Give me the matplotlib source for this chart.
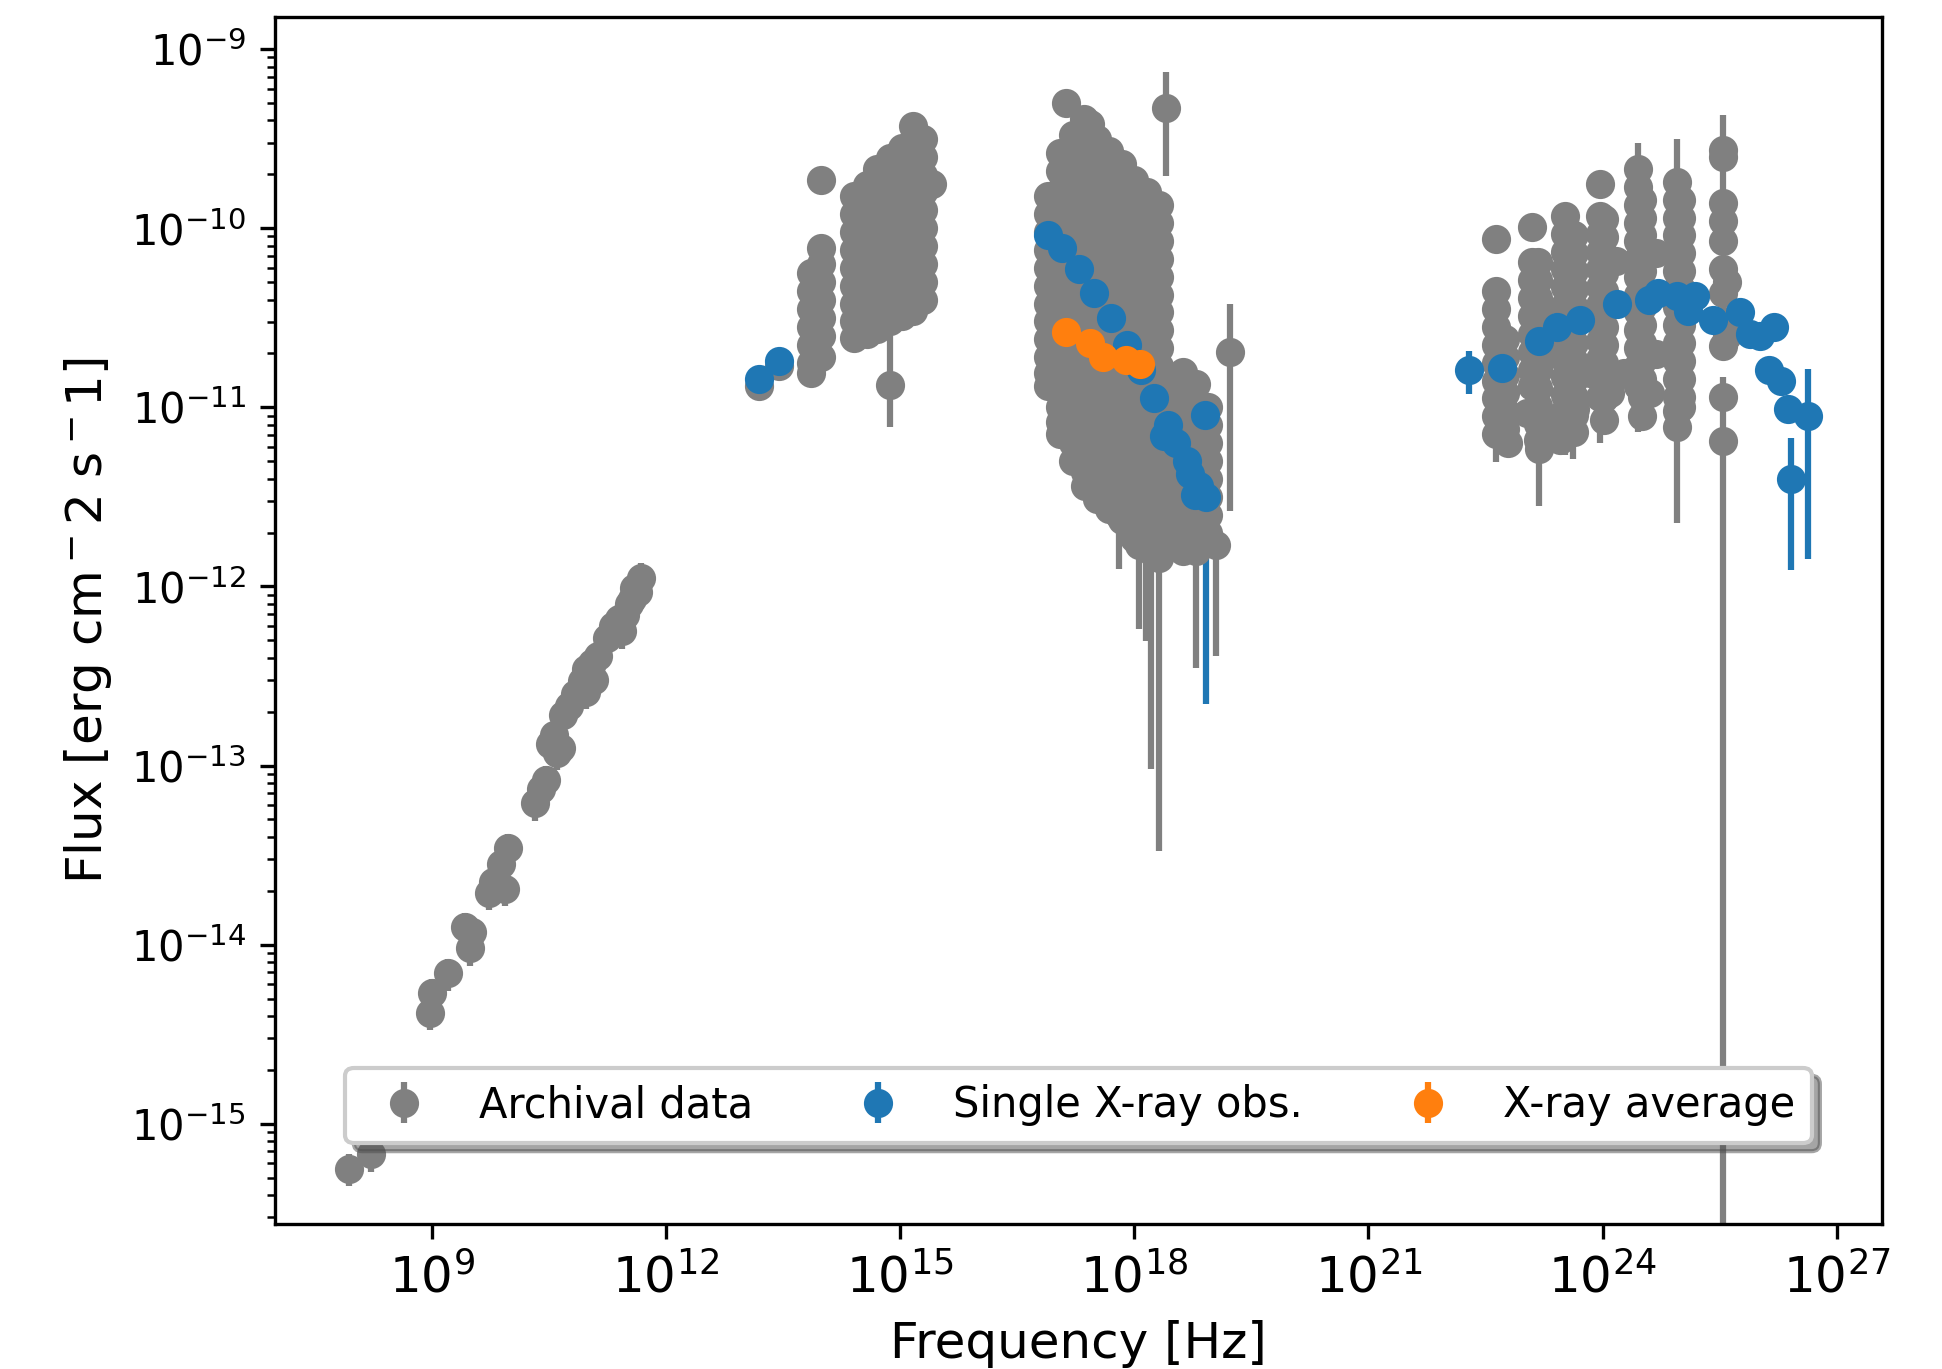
import numpy as np
import matplotlib.pyplot as plt

# All values are log10(frequency / Hz) and log10(flux / erg cm^-2 s^-1)

# Archival radio points
radio_lognu = [7.94, 8.22, 8.97, 9.00, 9.21, 9.43, 9.51, 9.49, 9.73, 9.78, 9.94, 9.89, 9.98,
               10.32, 10.40, 10.46, 10.52, 10.60, 10.56, 10.65, 10.68, 10.76, 10.84, 10.92,
               10.98, 11.05, 10.98, 11.08, 11.13, 11.24, 11.32, 11.40, 11.48, 11.52, 11.44,
               11.56, 11.64, 11.68, 11.59]
radio_logf = [-15.25, -15.17, -14.38, -14.27, -14.16, -13.90, -13.93, -14.02, -13.71, -13.65,
              -13.69, -13.55, -13.46, -13.21, -13.13, -13.08, -12.88, -12.93, -12.83, -12.90,
              -12.72, -12.67, -12.60, -12.53, -12.46, -12.43, -12.59, -12.52, -12.39, -12.29,
              -12.22, -12.18, -12.16, -12.10, -12.25, -12.07, -12.03, -11.95, -12.01]

# Archival IR / optical / UV points, grouped by frequency
opt_col_lognu = [13.19, 13.45, 13.86, 13.98, 14.41, 14.57, 14.70, 14.87, 15.02, 15.16, 15.29, 15.41]
opt_col_logf = [
    [-10.88],
    [-10.77],
    [-10.25, -10.35, -10.45, -10.55, -10.65, -10.75, -10.81],
    [-9.73, -10.11, -10.20, -10.30, -10.40, -10.50, -10.60, -10.72],
    [-9.82, -9.92, -10.02, -10.12, -10.22, -10.32, -10.42, -10.52, -10.61],
    [-9.76, -9.86, -9.96, -10.06, -10.16, -10.26, -10.36, -10.46, -10.59],
    [-9.67, -9.77, -9.87, -9.97, -10.07, -10.17, -10.27, -10.37, -10.47, -10.56],
    [-9.61, -9.71, -9.81, -9.91, -10.01, -10.11, -10.21, -10.31, -10.41, -10.52],
    [-9.55, -9.65, -9.75, -9.85, -9.95, -10.05, -10.15, -10.25, -10.35, -10.49],
    [-9.43, -9.52, -9.62, -9.72, -9.82, -9.92, -10.02, -10.12, -10.22, -10.32, -10.46],
    [-9.50, -9.60, -9.70, -9.80, -9.90, -10.00, -10.10, -10.20, -10.30, -10.40],
    [-9.75],
]

# Archival X-ray points, grouped by frequency
xray_col_lognu = [16.89, 17.05, 17.13, 17.21, 17.35, 17.37, 17.43, 17.52, 17.68, 17.84, 18.00,
                  18.16, 18.32, 18.63, 18.79, 18.95]
xray_col_logf = [
    [-9.82, -9.92, -10.02, -10.12, -10.22, -10.32, -10.42, -10.52, -10.62, -10.72, -10.81, -10.88],
    [-9.58, -9.68, -9.79, -9.90, -10.00, -10.10, -10.21, -10.30, -10.41, -10.50, -10.60, -10.71,
     -10.80, -10.90, -11.00, -11.08, -11.15],
    [-9.30],
    [-9.48, -9.58, -9.69, -9.80, -9.90, -10.00, -10.10, -10.20, -10.30, -10.40, -10.50, -10.60,
     -10.70, -10.80, -10.90, -11.00, -11.10, -11.20, -11.30],
    [-9.39],
    [-9.45, -9.55, -9.66, -9.76, -9.86, -9.96, -10.06, -10.16, -10.26, -10.36, -10.46, -10.56,
     -10.66, -10.76, -10.86, -10.96, -11.06, -11.16, -11.26, -11.36, -11.44],
    [-9.42],
    [-9.50, -9.60, -9.70, -9.80, -9.90, -10.00, -10.10, -10.20, -10.30, -10.40, -10.50, -10.60,
     -10.70, -10.80, -10.90, -11.00, -11.10, -11.20, -11.30, -11.40, -11.51],
    [-9.57, -9.67, -9.77, -9.87, -9.97, -10.07, -10.17, -10.27, -10.37, -10.47, -10.57, -10.67,
     -10.77, -10.87, -10.97, -11.07, -11.17, -11.27, -11.37, -11.47, -11.57],
    [-9.64, -9.74, -9.84, -9.94, -10.04, -10.14, -10.24, -10.34, -10.44, -10.54, -10.64, -10.74,
     -10.84, -10.94, -11.04, -11.14, -11.24, -11.34, -11.44, -11.54, -11.63],
    [-9.73, -9.83, -9.93, -10.03, -10.13, -10.23, -10.33, -10.43, -10.53, -10.63, -10.73, -10.83,
     -10.93, -11.03, -11.13, -11.23, -11.33, -11.43, -11.53, -11.63, -11.73],
    [-9.80, -9.90, -10.00, -10.10, -10.20, -10.30, -10.40, -10.50, -10.60, -10.70, -10.80, -10.90,
     -11.00, -11.10, -11.20, -11.30, -11.40, -11.50, -11.60, -11.70, -11.77],
    [-9.87, -9.97, -10.07, -10.17, -10.27, -10.37, -10.47, -10.57, -10.67, -10.77, -10.87, -10.97,
     -11.07, -11.17, -11.27, -11.37, -11.47, -11.57, -11.67, -11.77],
    [-10.80, -10.90, -11.00, -11.10, -11.20, -11.30, -11.40, -11.50, -11.60, -11.70, -11.80],
    [-10.87, -10.97, -11.07, -11.17, -11.27, -11.37, -11.47, -11.57, -11.67, -11.77],
    [-11.00, -11.10, -11.20, -11.30, -11.40, -11.50, -11.60, -11.70],
]

# Archival gamma-ray points, grouped by frequency
gam_col_lognu = [22.64, 22.75, 22.79, 23.03, 23.10, 23.17, 23.20, 23.32, 23.41, 23.45, 23.52,
                 23.64, 23.65, 23.84, 23.97, 24.02, 24.09, 24.17, 24.27, 24.46, 24.51, 24.61,
                 24.69, 24.95, 25.01, 25.54, 25.60]
gam_col_logf = [
    [-10.06, -10.35, -10.45, -10.55, -10.65, -10.75, -10.85, -10.95, -11.05],
    [-10.62, -10.72, -10.82, -10.92, -11.02, -11.12],
    [-11.20],
    [-11.03],
    [-9.99, -10.19, -10.29, -10.39, -10.49, -10.59, -10.69, -10.79, -10.88],
    [-10.19, -10.29, -10.39, -10.49, -10.59, -10.69, -10.79, -10.89, -10.99, -11.09, -11.18],
    [-10.44],
    [-10.70],
    [-11.09],
    [-11.18],
    [-9.93, -10.03, -10.13, -10.23, -10.33, -10.43, -10.53, -10.63, -10.73, -10.83, -10.93, -11.02],
    [-10.04, -10.14, -10.24, -10.34, -10.44, -10.54, -10.64, -10.74, -10.84, -10.94, -11.04, -11.14],
    [-11.01],
    [-10.81],
    [-9.75, -9.93, -10.03, -10.13, -10.23, -10.33, -10.43, -10.53, -10.63, -10.73, -10.83],
    [-9.95, -10.05, -10.15, -10.25, -10.35, -10.45, -10.55, -10.65, -10.75, -10.85, -10.95, -11.07],
    [-10.92],
    [-10.18],
    [-10.81],
    [-9.77, -9.87, -9.97, -10.07, -10.17, -10.27, -10.37, -10.47, -10.57, -10.67, -10.77],
    [-9.84, -9.94, -10.04, -10.14, -10.24, -10.34, -10.44, -10.54, -10.64, -10.74, -10.84, -10.94, -11.05],
    [-10.92],
    [-10.14, -10.70],
    [-9.84, -9.94, -10.04, -10.14, -10.24, -10.34, -10.44, -10.54, -10.64, -10.74, -10.84, -10.94, -11.02],
    [-9.84, -9.94, -10.04, -10.14, -10.24, -10.34, -10.44, -10.54, -10.64, -10.74, -10.84, -10.94, -11.00],
    [-9.60, -9.86, -9.96, -10.07, -10.23, -10.36, -10.52, -10.66, -10.94],
    [-10.30, -10.60],
]

# Archival points whose error bars stick out (lower / upper error as fraction of flux)
bar_lognu = [14.87, 18.40, 19.22, 17.81, 18.06, 18.15, 18.22, 18.32, 18.79, 19.05,
             22.64, 23.19, 23.52, 23.97, 23.62, 24.10, 24.46, 24.46, 24.95, 24.95, 25.54, 25.54]
bar_logf = [-10.875, -9.33, -10.69, -11.60, -11.77, -11.75, -11.80, -11.84, -11.80, -11.77,
            -11.15, -11.23, -11.09, -10.94, -10.94, -10.87, -9.67, -10.88, -9.74, -11.11, -9.56, -11.19]
bar_lo = [0.42, 0.58, 0.87, 0.50, 0.66, 0.72, 0.94, 0.977, 0.78, 0.76,
          0.30, 0.52, 0.33, 0.45, 0.55, 0.45, 0.40, 0.45, 0.74, 0.71, 0.55, 1.30]
bar_hi = [0.97, 0.60, 0.86, 0.50, 0.66, 0.72, 0.94, 0.977, 0.78, 0.76,
          0.30, 0.52, 0.33, 0.45, 0.55, 0.45, 0.40, 0.45, 0.74, 0.71, 0.55, 1.30]

# Single X-ray observations (blue)
single_lognu = [13.19, 13.45, 16.89, 17.08, 17.29, 17.49, 17.70, 17.91, 18.08, 18.25, 18.38,
                18.43, 18.54, 18.67, 18.71, 18.78, 18.83, 18.92, 18.91,
                22.29, 22.71, 23.19, 23.41, 23.71, 24.18, 24.59, 24.71, 24.95, 25.10, 25.18,
                25.42, 25.76, 25.89, 26.02, 26.19, 26.13, 26.28, 26.38, 26.41, 26.63]
single_logf = [-10.84, -10.74, -10.04, -10.11, -10.23, -10.36, -10.50, -10.65, -10.79, -10.95, -11.16,
               -11.10, -11.20, -11.30, -11.37, -11.49, -11.44, -11.50, -11.04,
               -10.79, -10.78, -10.63, -10.55, -10.51, -10.42, -10.40, -10.36, -10.38, -10.46, -10.38,
               -10.51, -10.47, -10.59, -10.60, -10.55, -10.79, -10.85, -11.01, -11.40, -11.05]
single_err = [0.05, 0.05, 0.05, 0.05, 0.05, 0.05, 0.05, 0.05, 0.05, 0.05, 0.05,
              0.05, 0.05, 0.05, 0.05, 0.05, 0.05, 0.93, 0.43,
              0.27, 0.10, 0.10, 0.10, 0.10, 0.10, 0.10, 0.10, 0.10, 0.10, 0.10,
              0.10, 0.10, 0.10, 0.10, 0.10, 0.10, 0.10, 0.10, 0.69, 0.84]

# X-ray average (orange)
avg_lognu = [17.12, 17.43, 17.60, 17.90, 18.07]
avg_logf = [-10.58, -10.64, -10.72, -10.735, -10.76]
avg_err = [0.05, 0.05, 0.05, 0.05, 0.05]


def flatten(col_nu, col_f):
    nu, f = [], []
    for n, fl in zip(col_nu, col_f):
        nu += [n] * len(fl)
        f += fl
    return np.array(nu), np.array(f)


opt_nu, opt_f = flatten(opt_col_lognu, opt_col_logf)
xr_nu, xr_f = flatten(xray_col_lognu, xray_col_logf)
gm_nu, gm_f = flatten(gam_col_lognu, gam_col_logf)

fig = plt.figure(figsize=(1942 / 300, 1369 / 300), dpi=300)
ax = fig.add_axes([0.1416, 0.1059, 0.8275, 0.8817])

# Archival data
F = 10 ** np.array(bar_logf)
ax.errorbar(10 ** np.array(bar_lognu), F, yerr=[F * np.array(bar_lo), F * np.array(bar_hi)],
            fmt='o', color='gray', label='Archival data')
F = 10 ** np.array(radio_logf)
ax.errorbar(10 ** np.array(radio_lognu), F, yerr=0.2 * F, fmt='o', color='gray')
for nu, f in [(opt_nu, opt_f), (xr_nu, xr_f), (gm_nu, gm_f)]:
    F = 10 ** f
    ax.errorbar(10 ** nu, F, yerr=0.1 * F, fmt='o', color='gray')

# Single X-ray observations
F = 10 ** np.array(single_logf)
ax.errorbar(10 ** np.array(single_lognu), F, yerr=F * np.array(single_err),
            fmt='o', color='C0', label='Single X-ray obs.')

# X-ray average
F = 10 ** np.array(avg_logf)
ax.errorbar(10 ** np.array(avg_lognu), F, yerr=F * np.array(avg_err),
            fmt='o', color='C1', label='X-ray average')

ax.set_xscale('log')
ax.set_yscale('log')
ax.set_xlim(10 ** 6.99, 10 ** 27.58)
ax.set_ylim(10 ** -15.56, 10 ** -8.82)
ax.set_xticks([1e9, 1e12, 1e15, 1e18, 1e21, 1e24, 1e27])
ax.tick_params(axis='x', labelsize=12)

ax.set_xlabel('Frequency [Hz]', fontsize=12)
ax.set_ylabel('Flux [erg cm$^-$2 s$^-$1]', fontsize=12)
ax.legend(loc='lower center', bbox_to_anchor=(0.5, 0.05), ncol=3, shadow=True)

fig.savefig('out.png', dpi=300)
